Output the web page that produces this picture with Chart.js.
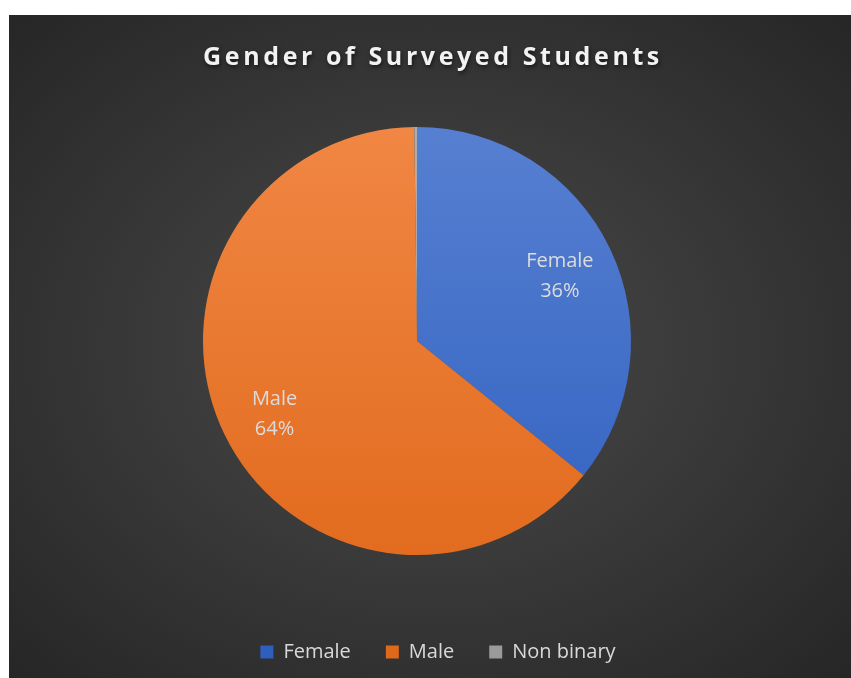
<!DOCTYPE html>
<html>
<head>
<meta charset="utf-8">
<script src="https://cdn.jsdelivr.net/npm/chart.js@4/dist/chart.umd.min.js"></script>
<style>
  html,body{margin:0;padding:0;background:#fff;}
  #box{position:absolute;left:9px;top:15px;width:842px;height:663px;
       background:radial-gradient(ellipse at 50% 50%,#4a4a4a 0%,#3a3a3a 45%,#262626 100%);}
</style>
</head>
<body>
<div id="box"><canvas id="genderChart"></canvas></div>
<script>
let chartTitle="Gender of Surveyed Students";
let genders=["Female","Male","Non binary"];
let shares=[35.8,64.0,0.2];
let topColors=["#5b83d3","#f28a48","#b0b0b0"];
let bottomColors=["#2e5fbf","#e0681a","#9a9a9a"];

document.addEventListener("DOMContentLoaded",() =>{

    let total=shares.reduce((a,b)=>a+b,0);

    //vertical gradient for each slice
    function sliceFill(ctx){
        let chart=ctx.chart;
        let area=chart.chartArea;
        if(!area) return topColors[ctx.dataIndex];
        let g=chart.ctx.createLinearGradient(0,area.top,0,area.bottom);
        g.addColorStop(0,topColors[ctx.dataIndex]);
        g.addColorStop(1,bottomColors[ctx.dataIndex]);
        return g;
    }

    //title with letter spacing and a soft shadow
    let titlePlugin={
        id:"spacedTitle",
        afterDraw(chart){
            let c=chart.ctx;
            c.save();
            c.font="bold 25px 'Open Sans', sans-serif";
            c.letterSpacing="3.6px";
            c.fillStyle="#f2f2f2";
            c.textAlign="center";
            c.textBaseline="middle";
            c.shadowColor="rgba(0,0,0,0.6)";
            c.shadowBlur=4;
            c.shadowOffsetX=1;
            c.shadowOffsetY=2;
            c.fillText(chartTitle,chart.width/2+3,43);
            c.restore();
        }
    };

    //labels inside the slices
    let labelPlugin={
        id:"sliceLabels",
        afterDatasetsDraw(chart){
            let c=chart.ctx;
            let meta=chart.getDatasetMeta(0);
            c.save();
            c.font="20px 'Open Sans', sans-serif";
            c.fillStyle="#dcdcdc";
            c.textAlign="center";
            c.textBaseline="middle";
            meta.data.forEach((arc,i)=>{
                let pct=Math.round(shares[i]/total*100);
                if(pct<1) return;
                let mid=(arc.startAngle+arc.endAngle)/2;
                let r=arc.outerRadius*0.74;
                let x=arc.x+Math.cos(mid)*r;
                let y=arc.y+Math.sin(mid)*r+4;
                c.fillText(genders[i],x,y-15);
                c.fillText(pct+"%",x,y+15);
            });
            c.restore();
        }
    };

    //nudge legend to the right like the original
    let legendShift={
        id:"legendShift",
        afterLayout(chart){
            chart.legend.left+=21;
            chart.legend.right+=21;
        }
    };

    new Chart(document.querySelector("#genderChart"),{
        type:"pie",
        data:{
            labels:genders,
            datasets:[{
                data:shares,
                backgroundColor:sliceFill,
                borderWidth:0,
                hoverOffset:0,
                radius:214
            }]
        },
        options:{
            responsive:true,
            maintainAspectRatio:false,
            animation:false,
            layout:{padding:{top:60,bottom:6,left:0,right:26}},
            plugins:{
                title:{display:false},
                tooltip:{enabled:false},
                legend:{
                    position:"bottom",
                    labels:{
                        boxWidth:13,
                        boxHeight:13,
                        padding:35,
                        color:"#d9d9d9",
                        font:{family:"'Open Sans', sans-serif",size:20}
                    }
                }
            }
        },
        plugins:[titlePlugin,labelPlugin,legendShift]
    });
})
</script>
</body>
</html>
